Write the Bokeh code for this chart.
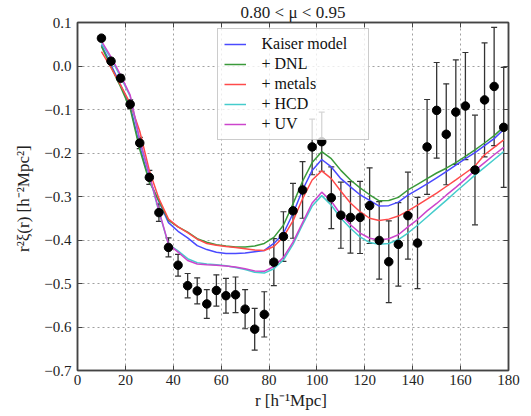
from bokeh.plotting import figure
from bokeh.models import (ColumnDataSource, Range1d, FixedTicker, LinearAxis,
                          Whisker, TeeHead, Legend, LegendItem)
from bokeh.embed import file_html
from bokeh.resources import INLINE

# ---------------- data ----------------
r_vals = [10, 14, 18, 22, 26, 30, 34, 38, 42, 46, 50, 54, 58, 62, 66, 70, 74, 78,
          82, 86, 90, 94, 98, 102, 106, 110, 114, 118, 122, 126, 130, 134, 138,
          142, 146, 150, 154, 158, 162, 166, 170, 174, 178]

xi_data = [0.064, 0.011, -0.028, -0.088, -0.177, -0.256, -0.337, -0.417, -0.458,
           -0.505, -0.517, -0.547, -0.516, -0.528, -0.526, -0.559, -0.605, -0.571,
           -0.451, -0.392, -0.333, -0.285, -0.186, -0.174, -0.303, -0.343, -0.348,
           -0.348, -0.321, -0.401, -0.450, -0.410, -0.344, -0.407, -0.186, -0.102,
           -0.157, -0.106, -0.092, -0.239, -0.078, -0.047, -0.141]

xi_err = [0.006, 0.007, 0.008, 0.010, 0.013, 0.016, 0.020, 0.022, 0.025, 0.028,
          0.030, 0.033, 0.036, 0.040, 0.041, 0.045, 0.048, 0.052, 0.054, 0.057,
          0.063, 0.065, 0.064, 0.068, 0.071, 0.076, 0.082, 0.083, 0.087, 0.089,
          0.094, 0.096, 0.100, 0.105, 0.109, 0.110, 0.116, 0.120, 0.123, 0.126,
          0.131, 0.136, 0.138]

kaiser = [0.048, 0.003, -0.044, -0.092, -0.185, -0.263, -0.312, -0.360, -0.380,
          -0.395, -0.413, -0.422, -0.428, -0.431, -0.431, -0.430, -0.427, -0.424,
          -0.408, -0.385, -0.339, -0.285, -0.240, -0.215, -0.232, -0.259, -0.278,
          -0.296, -0.309, -0.322, -0.321, -0.313, -0.297, -0.284, -0.271, -0.257,
          -0.243, -0.228, -0.213, -0.199, -0.183, -0.167, -0.146]

dnl = [0.045, -0.002, -0.048, -0.098, -0.192, -0.266, -0.310, -0.355, -0.370,
       -0.382, -0.397, -0.405, -0.411, -0.414, -0.416, -0.416, -0.414, -0.408,
       -0.394, -0.366, -0.317, -0.265, -0.222, -0.197, -0.213, -0.240, -0.262,
       -0.280, -0.296, -0.310, -0.309, -0.302, -0.285, -0.272, -0.259, -0.246,
       -0.235, -0.222, -0.208, -0.193, -0.177, -0.160, -0.140]

metals = [0.033, -0.004, -0.044, -0.086, -0.150, -0.240, -0.305, -0.352, -0.370,
          -0.383, -0.398, -0.408, -0.412, -0.415, -0.417, -0.420, -0.423, -0.424,
          -0.415, -0.393, -0.356, -0.305, -0.262, -0.241, -0.259, -0.288, -0.315,
          -0.335, -0.350, -0.355, -0.352, -0.345, -0.333, -0.320, -0.306, -0.292,
          -0.277, -0.262, -0.246, -0.230, -0.204, -0.187, -0.170]

hcd = [0.052, 0.017, -0.025, -0.070, -0.172, -0.252, -0.335, -0.410, -0.425,
       -0.443, -0.452, -0.455, -0.457, -0.459, -0.463, -0.468, -0.474, -0.476,
       -0.466, -0.446, -0.410, -0.365, -0.322, -0.298, -0.320, -0.350, -0.373,
       -0.393, -0.406, -0.410, -0.408, -0.399, -0.384, -0.366, -0.347, -0.328,
       -0.309, -0.289, -0.270, -0.251, -0.233, -0.215, -0.197]

uv = [0.057, 0.021, -0.021, -0.067, -0.170, -0.250, -0.332, -0.410, -0.428,
      -0.447, -0.455, -0.457, -0.458, -0.460, -0.462, -0.466, -0.471, -0.472,
      -0.461, -0.440, -0.405, -0.360, -0.315, -0.290, -0.311, -0.342, -0.365,
      -0.384, -0.396, -0.400, -0.397, -0.388, -0.370, -0.353, -0.333, -0.316,
      -0.297, -0.279, -0.260, -0.240, -0.222, -0.204, -0.187]

series_labels = ["Kaiser model", "+ DNL", "+ metals", "+ HCD", "+ UV"]
series_colors = ["#4a4aff", "#3a9a3a", "#ff4a4a", "#45cccc", "#cc45cc"]

x_ticks = [0, 20, 40, 60, 80, 100, 120, 140, 160, 180]
y_ticks = [0.1, 0.0, -0.1, -0.2, -0.3, -0.4, -0.5, -0.6, -0.7]
y_tick_labels = ["0.1", "0.0", "\u22120.1", "\u22120.2", "\u22120.3", "\u22120.4",
                 "\u22120.5", "\u22120.6", "\u22120.7"]

FONT = "serif"
FRAME_COLOR = "#444444"

# ---------------- figure ----------------
p = figure(width=531, height=416, x_range=Range1d(0, 180), y_range=Range1d(-0.7, 0.1),
           output_backend="svg", toolbar_location=None,
           min_border_left=77, min_border_right=23, min_border_top=22,
           min_border_bottom=46)
p.background_fill_color = "white"
p.outline_line_color = FRAME_COLOR
p.outline_line_width = 1.5

# title
p.title.text = "0.80 < \u03bc < 0.95"
p.title.align = "center"
p.title.text_font = FONT
p.title.text_font_size = "17px"
p.title.text_font_style = "normal"
p.title.text_color = "#222222"
p.title.standoff = 1
p.title.offset = 0

# model lines
model_series = [kaiser, dnl, metals, hcd, uv]
renderers = []
for vals, col in zip(model_series, series_colors):
    rr = p.line(r_vals, vals, line_color=col, line_width=1.5)
    renderers.append(rr)

# data with error bars
lower = [y - e for y, e in zip(xi_data, xi_err)]
upper = [y + e for y, e in zip(xi_data, xi_err)]
src = ColumnDataSource(data=dict(r=r_vals, y=xi_data, lower=lower, upper=upper))
wh = Whisker(base="r", lower="lower", upper="upper", source=src, dimension="height",
             line_color="#333333", line_width=1.3,
             upper_head=TeeHead(size=6, line_color="#333333", line_width=1.2),
             lower_head=TeeHead(size=6, line_color="#333333", line_width=1.2))
p.add_layout(wh)
p.scatter("r", "y", source=src, size=8.5, fill_color="black", line_color="black")

# axes styling
for ax in [p.xaxis[0], p.yaxis[0]]:
    ax.major_tick_in = 5
    ax.major_tick_out = 0
    ax.minor_tick_line_color = None
    ax.axis_line_color = FRAME_COLOR
    ax.axis_line_width = 1.5
    ax.major_tick_line_color = FRAME_COLOR
    ax.major_label_text_font = FONT
    ax.major_label_text_font_size = "15px"
    ax.major_label_text_color = "#222222"
    ax.axis_label_text_font = FONT
    ax.axis_label_text_font_size = "17px"
    ax.axis_label_text_font_style = "normal"
    ax.axis_label_text_color = "#222222"

p.xaxis[0].ticker = FixedTicker(ticks=x_ticks)
p.yaxis[0].ticker = FixedTicker(ticks=y_ticks)
p.yaxis[0].major_label_overrides = {t: s for t, s in zip(y_ticks, y_tick_labels)}
p.xaxis[0].major_label_standoff = 4
p.yaxis[0].major_label_standoff = 6
p.xaxis[0].axis_label = "r  [h\u207b\u00b9Mpc]"
p.yaxis[0].axis_label = "r\u00b2\u03be(r)  [h\u207b\u00b2Mpc\u00b2]"
p.xaxis[0].axis_label_standoff = 3
p.yaxis[0].axis_label_standoff = 8

# top & right axes (ticks only, no labels)
top = LinearAxis(ticker=FixedTicker(ticks=x_ticks), major_label_text_font_size="0px",
                 major_label_text_color=None,
                 major_tick_in=5, major_tick_out=0, minor_tick_line_color=None,
                 axis_line_color=FRAME_COLOR, axis_line_width=1.5,
                 major_tick_line_color=FRAME_COLOR, major_label_standoff=0)
right = LinearAxis(ticker=FixedTicker(ticks=y_ticks), major_label_text_font_size="0px",
                   major_label_text_color=None,
                   major_tick_in=5, major_tick_out=0, minor_tick_line_color=None,
                   axis_line_color=FRAME_COLOR, axis_line_width=1.5,
                   major_tick_line_color=FRAME_COLOR, major_label_standoff=0)
p.add_layout(top, "above")
p.add_layout(right, "right")

# grid
p.xgrid.ticker = FixedTicker(ticks=x_ticks)
p.ygrid.ticker = FixedTicker(ticks=y_ticks)
for g in [p.xgrid[0], p.ygrid[0]]:
    g.grid_line_color = "#a0a0a0"
    g.grid_line_dash = "2 3"
    g.grid_line_width = 1

# legend
items = [LegendItem(label=lab, renderers=[rr]) for lab, rr in zip(series_labels, renderers)]
legend = Legend(items=items, location="top_center", margin=6,
                label_text_font=FONT, label_text_font_size="16px",
                label_text_color="#111111",
                glyph_width=22, glyph_height=18, label_height=18, label_standoff=16,
                label_width=100, spacing=2, padding=6,
                border_line_color="#999999", border_line_width=1.3,
                background_fill_color="white", background_fill_alpha=0.8)
p.add_layout(legend)

open("out.html", "w").write(file_html(p, INLINE))
